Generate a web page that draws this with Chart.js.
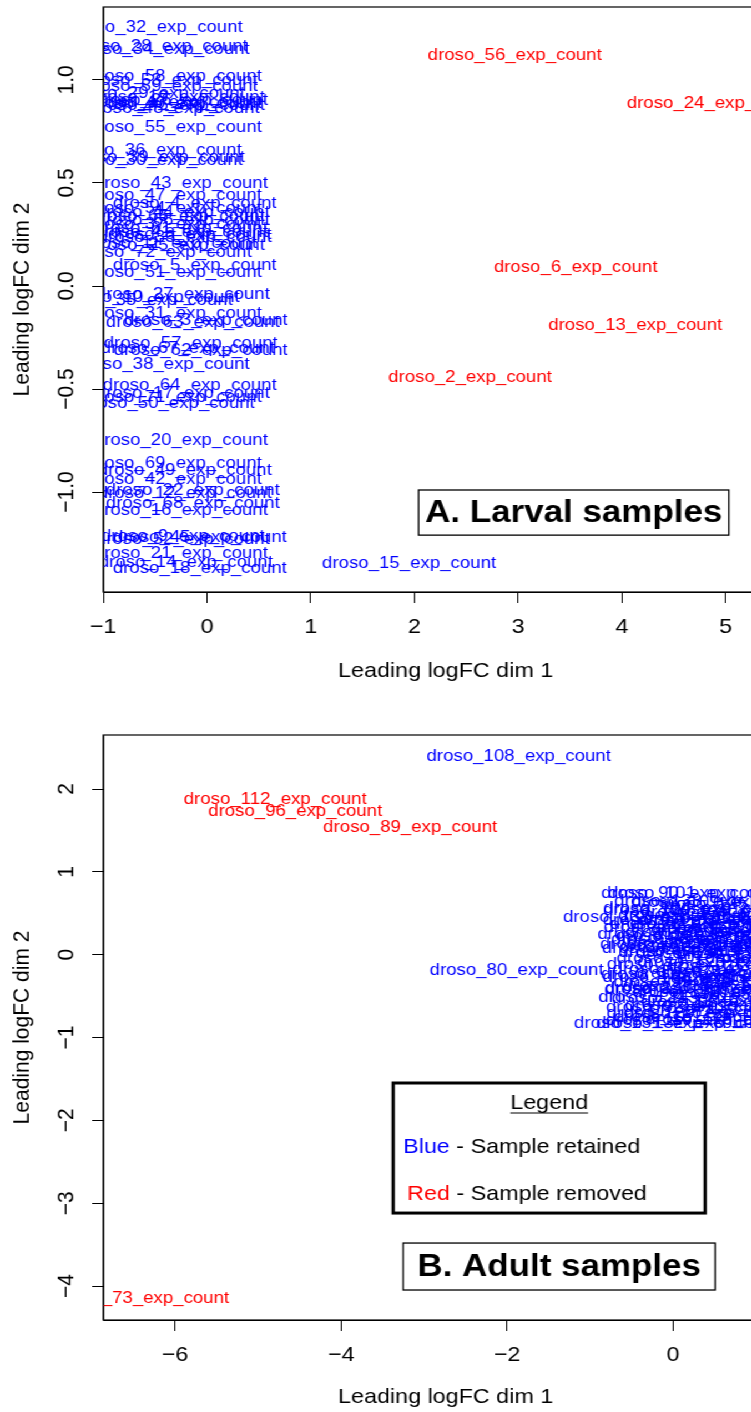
<!DOCTYPE html>
<html>
<head>
<meta charset="utf-8">
<script src="https://cdn.jsdelivr.net/npm/chart.js@4/dist/chart.umd.min.js"></script>
<style>
  html, body { margin: 0; padding: 0; width: 751px; height: 1412px; overflow: hidden; background: #fff; }
  /* the figure is laid out slightly narrower and widened horizontally as a whole */
  #sheet { position: absolute; left: 0; top: 0; width: 677px; height: 1412px; transform: scaleX(1.11); transform-origin: 0 0; }
  #larval { position: absolute; left: 0; top: 0; }
  #adult { position: absolute; left: 0; top: 700px; }
</style>
</head>
<body>
<div id="sheet">
  <canvas id="larval" width="720" height="700"></canvas>
  <canvas id="adult" width="720" height="712"></canvas>
</div>
<script>
// ---- Larval samples: MDS coordinates (leading logFC dim 1 / dim 2) ----
const larvalKeptNames = [
  'droso_32_exp_count','droso_28_exp_count','droso_34_exp_count','droso_58_exp_count','droso_53_exp_count',
  'droso_59_exp_count','droso_29_exp_count','droso_19_exp_count','droso_26_exp_count','droso_1_exp_count',
  'droso_40_exp_count','droso_46_exp_count','droso_48_exp_count','droso_55_exp_count','droso_36_exp_count',
  'droso_39_exp_count','droso_30_exp_count','droso_43_exp_count','droso_47_exp_count','droso_4_exp_count',
  'droso_54_exp_count','droso_44_exp_count','droso_65_exp_count','droso_66_exp_count','droso_37_exp_count',
  'droso_61_exp_count','droso_41_exp_count','droso_8_exp_count','droso_33_exp_count','droso_11_exp_count',
  'droso_25_exp_count','droso_72_exp_count','droso_5_exp_count','droso_51_exp_count','droso_27_exp_count',
  'droso_10_exp_count','droso_35_exp_count','droso_31_exp_count','droso_3_exp_count','droso_63_exp_count',
  'droso_57_exp_count','droso_67_exp_count','droso_62_exp_count','droso_38_exp_count','droso_64_exp_count',
  'droso_17_exp_count','droso_71_exp_count','droso_50_exp_count','droso_20_exp_count','droso_69_exp_count',
  'droso_49_exp_count','droso_42_exp_count','droso_22_exp_count','droso_12_exp_count','droso_68_exp_count',
  'droso_16_exp_count','droso_9_exp_count','droso_45_exp_count','droso_52_exp_count','droso_21_exp_count',
  'droso_14_exp_count','droso_18_exp_count','droso_15_exp_count'
];
const larvalKeptDim1 = [
  -0.494,-0.445,-0.426,-0.310,-0.349,-0.349,-0.474,-0.281,-0.252,-0.330,
  -0.310,-0.281,-0.330,-0.310,-0.503,-0.474,-0.494,-0.252,-0.310,-0.117,
  -0.310,-0.233,-0.281,-0.233,-0.310,-0.252,-0.252,-0.166,-0.214,-0.349,
  -0.281,-0.407,-0.117,-0.310,-0.233,-0.523,-0.590,-0.310,-0.011,-0.137,
  -0.156,-0.185,-0.060,-0.426,-0.166,-0.233,-0.310,-0.378,-0.252,-0.310,
  -0.214,-0.310,-0.137,-0.214,-0.137,-0.252,-0.233,-0.069,-0.233,-0.252,
  -0.204,-0.069, 1.947
];
const larvalKeptDim2 = [
   1.257, 1.165, 1.150, 1.015, 1.000, 0.971, 0.937, 0.917, 0.903, 0.893,
   0.888, 0.879, 0.864, 0.772, 0.660, 0.626, 0.612, 0.500, 0.442, 0.403,
   0.379, 0.359, 0.340, 0.320, 0.301, 0.282, 0.262, 0.252, 0.238, 0.209,
   0.199, 0.165, 0.102, 0.068,-0.039,-0.053,-0.068,-0.131,-0.165,-0.175,
  -0.277,-0.301,-0.311,-0.379,-0.481,-0.519,-0.539,-0.568,-0.748,-0.859,
  -0.893,-0.937,-0.990,-1.005,-1.053,-1.087,-1.214,-1.218,-1.228,-1.296,
  -1.340,-1.369,-1.345
];
const larvalDroppedNames = ['droso_56_exp_count','droso_24_exp_count','droso_6_exp_count','droso_13_exp_count','droso_2_exp_count'];
const larvalDroppedDim1  = [2.965, 4.884, 3.553, 4.127, 2.535];
const larvalDroppedDim2  = [1.121, 0.888, 0.092,-0.189,-0.442];

// ---- Adult samples ----
const adultKeptNames = [
  'droso_108_exp_count','droso_80_exp_count','droso_90_exp_count','droso_101_exp_count','droso_137_exp_count',
  'droso_120_exp_count','droso_138_exp_count','droso_125_exp_count','droso_109_exp_count','droso_91_exp_count',
  'droso_104_exp_count','droso_136_exp_count','droso_122_exp_count','droso_106_exp_count','droso_97_exp_count',
  'droso_75_exp_count','droso_128_exp_count','droso_88_exp_count','droso_74_exp_count','droso_111_exp_count',
  'droso_82_exp_count','droso_127_exp_count','droso_98_exp_count','droso_86_exp_count','droso_115_exp_count',
  'droso_76_exp_count','droso_117_exp_count','droso_135_exp_count','droso_100_exp_count','droso_84_exp_count',
  'droso_79_exp_count','droso_114_exp_count','droso_94_exp_count','droso_134_exp_count','droso_107_exp_count',
  'droso_81_exp_count','droso_123_exp_count','droso_77_exp_count','droso_103_exp_count','droso_126_exp_count',
  'droso_87_exp_count','droso_110_exp_count','droso_121_exp_count','droso_95_exp_count','droso_78_exp_count',
  'droso_99_exp_count','droso_133_exp_count','droso_83_exp_count','droso_105_exp_count','droso_85_exp_count',
  'droso_113_exp_count','droso_124_exp_count','droso_93_exp_count','droso_116_exp_count','droso_92_exp_count',
  'droso_130_exp_count','droso_102_exp_count','droso_129_exp_count','droso_118_exp_count','droso_119_exp_count',
  'droso_139_exp_count','droso_140_exp_count','droso_141_exp_count','droso_142_exp_count','droso_143_exp_count',
  'droso_144_exp_count','droso_145_exp_count','droso_146_exp_count','droso_147_exp_count','droso_148_exp_count',
  'droso_149_exp_count','droso_150_exp_count','droso_151_exp_count','droso_152_exp_count',
  'droso_131_exp_count','droso_132_exp_count'
];
const adultKeptDim1 = [
  -1.861,-1.886, 0.181, 0.325,-0.217, 0.265, 0.400, 0.950, 0.610, 0.930,
   0.270, 0.720, 0.450, 1.190, 0.200, 0.620, 0.590, 1.270, 0.210, 1.020,
   0.470, 1.480, 0.810, 0.300, 0.190, 1.120, 0.550, 0.230, 1.580, 0.710,
   0.190, 0.880, 0.390, 1.150, 0.430, 1.430, 0.680, 0.250, 0.980, 0.380,
   0.580, 0.230, 1.090, 1.360, 0.850, 0.330, 0.500, 0.220, 0.740, 1.050,
   0.360, 0.210, 0.660, 1.310, 0.240, 0.830, 0.520, 0.310, 0.770, 0.290,
   0.420, 0.660, 0.290, 0.900, 0.350, 0.530, 1.220, 0.470, 0.750, 0.260,
   1.000, 0.620, 0.400, 0.840,
  -0.084, 0.181
];
const adultKeptDim2 = [
   2.398,-0.193, 0.736, 0.736, 0.447, 0.531, 0.640, 0.610, 0.630, 0.550,
   0.560, 0.510, 0.470, 0.470, 0.420, 0.410, 0.360, 0.350, 0.330, 0.320,
   0.270, 0.280, 0.240, 0.190, 0.250, 0.180, 0.140, 0.120, 0.120, 0.090,
   0.080, 0.050, 0.030, 0.000,-0.050,-0.050,-0.090,-0.120,-0.140,-0.180,
  -0.220,-0.240,-0.260,-0.290,-0.310,-0.330,-0.380,-0.420,-0.420,-0.480,
  -0.530,-0.510,-0.570,-0.620,-0.630,-0.650,-0.710,-0.710,-0.780,-0.790,
   0.220, 0.020,-0.410,-0.200, 0.360,-0.610,-0.380, 0.100, 0.430,-0.270,
   0.150,-0.460,-0.760, 0.300,
  -0.833,-0.833
];
const adultDroppedNames = ['droso_112_exp_count','droso_96_exp_count','droso_89_exp_count','droso_73_exp_count'];
const adultDroppedDim1  = [-4.795,-4.554,-3.169,-6.398];
const adultDroppedDim2  = [ 1.879, 1.734, 1.541,-4.145];

// ---- text ----
const dim1Title = 'Leading logFC dim 1';
const dim2Title = 'Leading logFC dim 2';
const larvalPanelTitle = 'A. Larval samples';
const adultPanelTitle = 'B. Adult samples';
const legendHeading = 'Legend';
const legendRows = [
  { word: 'Blue', rest: ' - Sample retained', color: '#0000ff' },
  { word: 'Red',  rest: ' - Sample removed',  color: '#ff0000' }
];

const FONT = "'Liberation Sans', Arial, Helvetica, sans-serif";
Chart.defaults.font.family = FONT;
Chart.defaults.color = '#000';

const BLUE = '#0000ff';
const RED = '#ff0000';

function withMinus(v) { return String(v).replace('-', '\u2212'); }
function toPoints(xs, ys) { return xs.map((x, i) => ({ x: x, y: ys[i] })); }

// sample names written centred on each point, clipped to the plot region
const sampleLabels = {
  id: 'sampleLabels',
  afterDatasetsDraw(chart) {
    const { ctx, chartArea: a } = chart;
    ctx.save();
    ctx.beginPath();
    ctx.rect(a.left, a.top, a.right - a.left, a.bottom - a.top);
    ctx.clip();
    ctx.font = '16.8px ' + FONT;
    ctx.textAlign = 'center';
    ctx.textBaseline = 'middle';
    chart.data.datasets.forEach((ds, i) => {
      const meta = chart.getDatasetMeta(i);
      ctx.fillStyle = ds.textColor;
      meta.data.forEach((pt, j) => ctx.fillText(ds.sampleNames[j], pt.x, pt.y));
    });
    ctx.restore();
  }
};

// plot frame, rotated y tick labels, panel title box and optional legend box
function makeFrame(cfg) {
  return {
    id: 'panelFrame',
    afterDraw(chart) {
      const { ctx, chartArea: a, scales: { x, y } } = chart;
      ctx.save();
      ctx.strokeStyle = '#000';
      ctx.lineWidth = 1.2;
      ctx.strokeRect(a.left, a.top, a.right - a.left, a.bottom - a.top);

      ctx.font = '21px ' + FONT;
      ctx.fillStyle = '#000';
      ctx.textAlign = 'center';
      ctx.textBaseline = 'middle';
      y.ticks.forEach(t => {
        const py = y.getPixelForValue(t.value);
        ctx.save();
        ctx.translate(a.left - cfg.tickGap, py);
        ctx.rotate(-Math.PI / 2);
        ctx.fillText(withMinus(t.value.toFixed(cfg.decimals)), 0, 0);
        ctx.restore();
      });

      const box = (b) => {
        const L = x.getPixelForValue(b.x0), R = x.getPixelForValue(b.x1);
        const T = y.getPixelForValue(b.y0), B = y.getPixelForValue(b.y1);
        return { L, R, T, B };
      };

      if (cfg.title) {
        const { L, R, T, B } = box(cfg.title);
        ctx.fillStyle = '#fff';
        ctx.fillRect(L, T, R - L, B - T);
        ctx.lineWidth = 1.3;
        ctx.strokeRect(L, T, R - L, B - T);
        ctx.fillStyle = '#000';
        ctx.font = 'bold 31.5px ' + FONT;
        ctx.textAlign = 'center';
        ctx.textBaseline = 'middle';
        ctx.fillText(cfg.title.text, (L + R) / 2, (T + B) / 2 + 1);
      }

      if (cfg.legend) {
        const { L, R, T, B } = box(cfg.legend);
        ctx.fillStyle = '#fff';
        ctx.fillRect(L, T, R - L, B - T);
        ctx.lineWidth = 3;
        ctx.strokeRect(L, T, R - L, B - T);
        ctx.font = '21px ' + FONT;
        ctx.fillStyle = '#000';
        ctx.textAlign = 'center';
        ctx.textBaseline = 'middle';
        const cx = (L + R) / 2;
        ctx.fillText(legendHeading, cx, T + 20);
        const w = ctx.measureText(legendHeading).width;
        ctx.lineWidth = 1.2;
        ctx.beginPath();
        ctx.moveTo(cx - w / 2, T + 30);
        ctx.lineTo(cx + w / 2, T + 30);
        ctx.stroke();
        ctx.textAlign = 'left';
        const rowX = [9, 12.6], rowY = [64, 111];
        legendRows.forEach((r, i) => {
          const px = L + rowX[i], py = T + rowY[i];
          ctx.fillStyle = r.color;
          ctx.fillText(r.word, px, py);
          const ww = ctx.measureText(r.word).width;
          ctx.fillStyle = '#000';
          ctx.fillText(r.rest, px + ww, py);
        });
      }
      ctx.restore();
    }
  };
}

function makeChart(canvasId, p) {
  return new Chart(document.getElementById(canvasId), {
    type: 'scatter',
    data: {
      datasets: [
        { data: toPoints(p.keptX, p.keptY), sampleNames: p.keptNames, textColor: BLUE, pointRadius: 0, pointHoverRadius: 0 },
        { data: toPoints(p.dropX, p.dropY), sampleNames: p.dropNames, textColor: RED, pointRadius: 0, pointHoverRadius: 0 }
      ]
    },
    options: {
      responsive: false,
      animation: false,
      events: [],
      layout: { padding: { top: p.padTop, left: 0, right: 10, bottom: 0 } },
      plugins: { legend: { display: false }, tooltip: { enabled: false } },
      scales: {
        x: {
          type: 'linear', position: 'bottom', min: p.xMin, max: p.xMax,
          afterFit(s) { s.height = p.xAxisHeight; },
          ticks: { stepSize: p.xStep, includeBounds: false, autoSkip: false, maxRotation: 0,
                   font: { size: 21 }, color: '#000', padding: 12, callback: (v) => withMinus(v) },
          grid: { drawOnChartArea: false, drawTicks: true, tickLength: 11, color: '#000', lineWidth: 1 },
          border: { display: true, color: '#000', width: 1 },
          title: { display: true, text: dim1Title, font: { size: 21 }, color: '#000',
                   padding: { top: 0, bottom: p.xTitlePad } }
        },
        y: {
          type: 'linear', position: 'left', min: p.yMin, max: p.yMax,
          afterFit(s) { s.width = 93; },
          ticks: { display: false, stepSize: p.yStep, includeBounds: false },
          grid: { drawOnChartArea: false, drawTicks: true, tickLength: 10, color: '#000', lineWidth: 1 },
          border: { display: true, color: '#000', width: 1 },
          title: { display: true, text: dim2Title, font: { size: 21 }, color: '#000',
                   padding: { top: 7.2, bottom: 0 } }
        }
      }
    },
    plugins: [sampleLabels, makeFrame(p.frame)]
  });
}

makeChart('larval', {
  keptNames: larvalKeptNames, keptX: larvalKeptDim1, keptY: larvalKeptDim2,
  dropNames: larvalDroppedNames, dropX: larvalDroppedDim1, dropY: larvalDroppedDim2,
  xMin: -1, xMax: 5.6, xStep: 1, yMin: -1.485, yMax: 1.354, yStep: 0.5,
  padTop: 7, xAxisHeight: 108, xTitlePad: 16.4,
  frame: { tickGap: 33, decimals: 1,
           title: { x0: 2.039, x1: 5.029, y0: -0.990, y1: -1.209, text: larvalPanelTitle } }
});

makeChart('adult', {
  keptNames: adultKeptNames, keptX: adultKeptDim1, keptY: adultKeptDim2,
  dropNames: adultDroppedNames, dropX: adultDroppedDim1, dropY: adultDroppedDim2,
  xMin: -6.867, xMax: 1.385, xStep: 2, yMin: -4.410, yMax: 2.652, yStep: 1,
  padTop: 35, xAxisHeight: 92, xTitlePad: 2.4,
  frame: { tickGap: 33, decimals: 0,
           title: { x0: -3.253, x1: 0.506, y0: -3.481, y1: -4.048, text: adultPanelTitle },
           legend: { x0: -3.373, x1: 0.386, y0: -1.549, y1: -3.119 } }
});
</script>
</body>
</html>
